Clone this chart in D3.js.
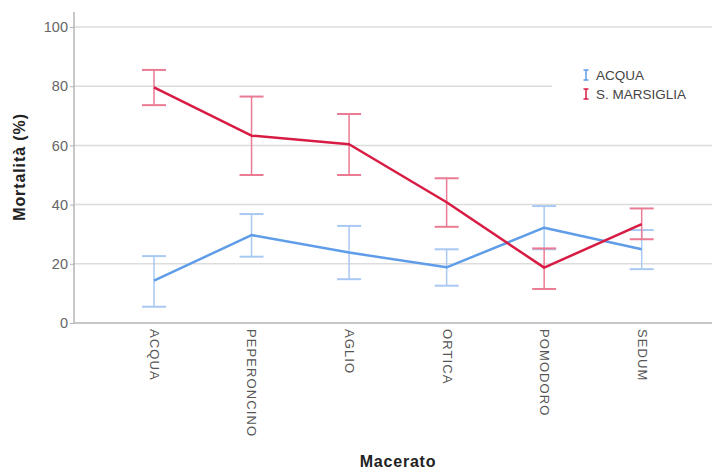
<!DOCTYPE html>
<html>
<head>
<meta charset="utf-8">
<script src="https://cdn.jsdelivr.net/npm/d3@7"></script>
<style>
  body { margin: 0; background: #fff; }
  svg text { font-family: "Liberation Sans", Arial, sans-serif; }
</style>
</head>
<body>
<div id="chart"></div>
<script>
// categorie sull'asse x
const categories = ["ACQUA", "PEPERONCINO", "AGLIO", "ORTICA", "POMODORO", "SEDUM"];
const seriesNames = ["ACQUA", "S. MARSIGLIA"];
// medie e limiti delle barre di errore (mortalità %)
const acquaMean = [14.3, 29.7, 23.8, 18.8, 32.2, 24.9];
const acquaLow  = [5.5, 22.4, 14.8, 12.6, 24.9, 18.2];
const acquaHigh = [22.6, 36.8, 32.8, 24.9, 39.5, 31.4];
const marsMean = [79.6, 63.3, 60.4, 40.8, 18.7, 33.4];
const marsLow  = [73.6, 50.0, 50.0, 32.5, 11.5, 28.3];
const marsHigh = [85.5, 76.5, 70.6, 48.9, 25.2, 38.7];
const yTicks = [0, 20, 40, 60, 80, 100];

const w = 712, h = 469;
const padL = 74, padT = 12, padB = 323, padR = 712;

const svg = d3.select("#chart").append("svg")
  .attr("width", w).attr("height", h);

const xScale = d3.scalePoint()
  .domain(categories)
  .range([154, 641.7]);
const yScale = d3.scaleLinear()
  .domain([0, 100])
  .range([padB, 27]);

// griglia
svg.append("g").selectAll("line")
  .data(yTicks.filter(d => d > 0))
  .join("line")
  .attr("x1", padL).attr("x2", padR)
  .attr("y1", d => yScale(d)).attr("y2", d => yScale(d))
  .attr("stroke", "#dcdcdc").attr("stroke-width", 1.5);

// asse y
const yAxis = d3.axisLeft(yScale).tickValues(yTicks).tickSize(4).tickPadding(2);
const gy = svg.append("g").attr("transform", "translate(" + padL + ",0)").call(yAxis);
gy.select(".domain").attr("d", "M0," + padT + "V" + padB).attr("stroke", "#b5b5b5").attr("stroke-width", 1.5);
gy.selectAll(".tick line").attr("stroke", "#b5b5b5");
gy.selectAll(".tick text").attr("fill", "#666").style("font-size", "14.5px");

// asse x
const xAxis = d3.axisBottom(xScale).tickSize(0).tickPadding(0);
const gx = svg.append("g").attr("transform", "translate(0," + padB + ")").call(xAxis);
gx.select(".domain").attr("d", "M" + padL + ",0H" + padR).attr("stroke", "#b5b5b5").attr("stroke-width", 1.5);
gx.selectAll(".tick text")
  .attr("fill", "#555")
  .style("font-size", "13px")
  .style("letter-spacing", "1.1px")
  .attr("text-anchor", "start")
  .attr("dy", "0.35em")
  .attr("transform", "translate(0,6) rotate(90)")
  .attr("x", 0).attr("y", 0);

// titoli degli assi
svg.append("text")
  .attr("x", 398).attr("y", 467)
  .attr("text-anchor", "middle")
  .style("font-size", "16px").style("font-weight", "bold")
  .style("letter-spacing", "0.8px")
  .attr("fill", "#222")
  .text("Macerato");
svg.append("text")
  .attr("transform", "translate(25,167) rotate(-90)")
  .attr("text-anchor", "middle")
  .style("font-size", "16px").style("font-weight", "bold")
  .style("letter-spacing", "0.9px")
  .attr("fill", "#222")
  .text("Mortalità (%)");

const series = [
  { name: seriesNames[0], mean: acquaMean, low: acquaLow, high: acquaHigh, line: "#5f9de8", bar: "#a9c9f2" },
  { name: seriesNames[1], mean: marsMean, low: marsLow, high: marsHigh, line: "#d81b43", bar: "#ea7b93" }
];

const cap = 12;
series.forEach(s => {
  const g = svg.append("g");
  categories.forEach((c, i) => {
    const x = xScale(c);
    g.append("line").attr("x1", x).attr("x2", x)
      .attr("y1", yScale(s.low[i])).attr("y2", yScale(s.high[i]))
      .attr("stroke", s.bar).attr("stroke-width", 1.5);
    [s.low[i], s.high[i]].forEach(v => {
      g.append("line").attr("x1", x - cap).attr("x2", x + cap)
        .attr("y1", yScale(v)).attr("y2", yScale(v))
        .attr("stroke", s.bar).attr("stroke-width", 2);
    });
  });
});
series.forEach(s => {
  svg.append("path")
    .datum(categories.map((c, i) => [c, s.mean[i]]))
    .attr("fill", "none")
    .attr("stroke", s.line)
    .attr("stroke-width", 2.5)
    .attr("stroke-linejoin", "round")
    .attr("d", d3.line().x(d => xScale(d[0])).y(d => yScale(d[1])));
});

// legenda
svg.append("rect").attr("x", 552).attr("y", 62).attr("width", 160).attr("height", 45).attr("fill", "#fff");
series.forEach((s, i) => {
  const y = 75 + i * 19;
  const lg = svg.append("g").attr("transform", "translate(586," + y + ")");
  lg.append("line").attr("x1", 0).attr("x2", 0).attr("y1", -5).attr("y2", 5).attr("stroke", s.line).attr("stroke-width", 1.5);
  lg.append("line").attr("x1", -2.5).attr("x2", 2.5).attr("y1", -5).attr("y2", -5).attr("stroke", s.line).attr("stroke-width", 1.5);
  lg.append("line").attr("x1", -2.5).attr("x2", 2.5).attr("y1", 5).attr("y2", 5).attr("stroke", s.line).attr("stroke-width", 1.5);
  lg.append("text").attr("x", 10).attr("y", 0).attr("dy", "0.35em")
    .style("font-size", "13.5px").attr("fill", "#444").text(s.name);
});
</script>
</body>
</html>
